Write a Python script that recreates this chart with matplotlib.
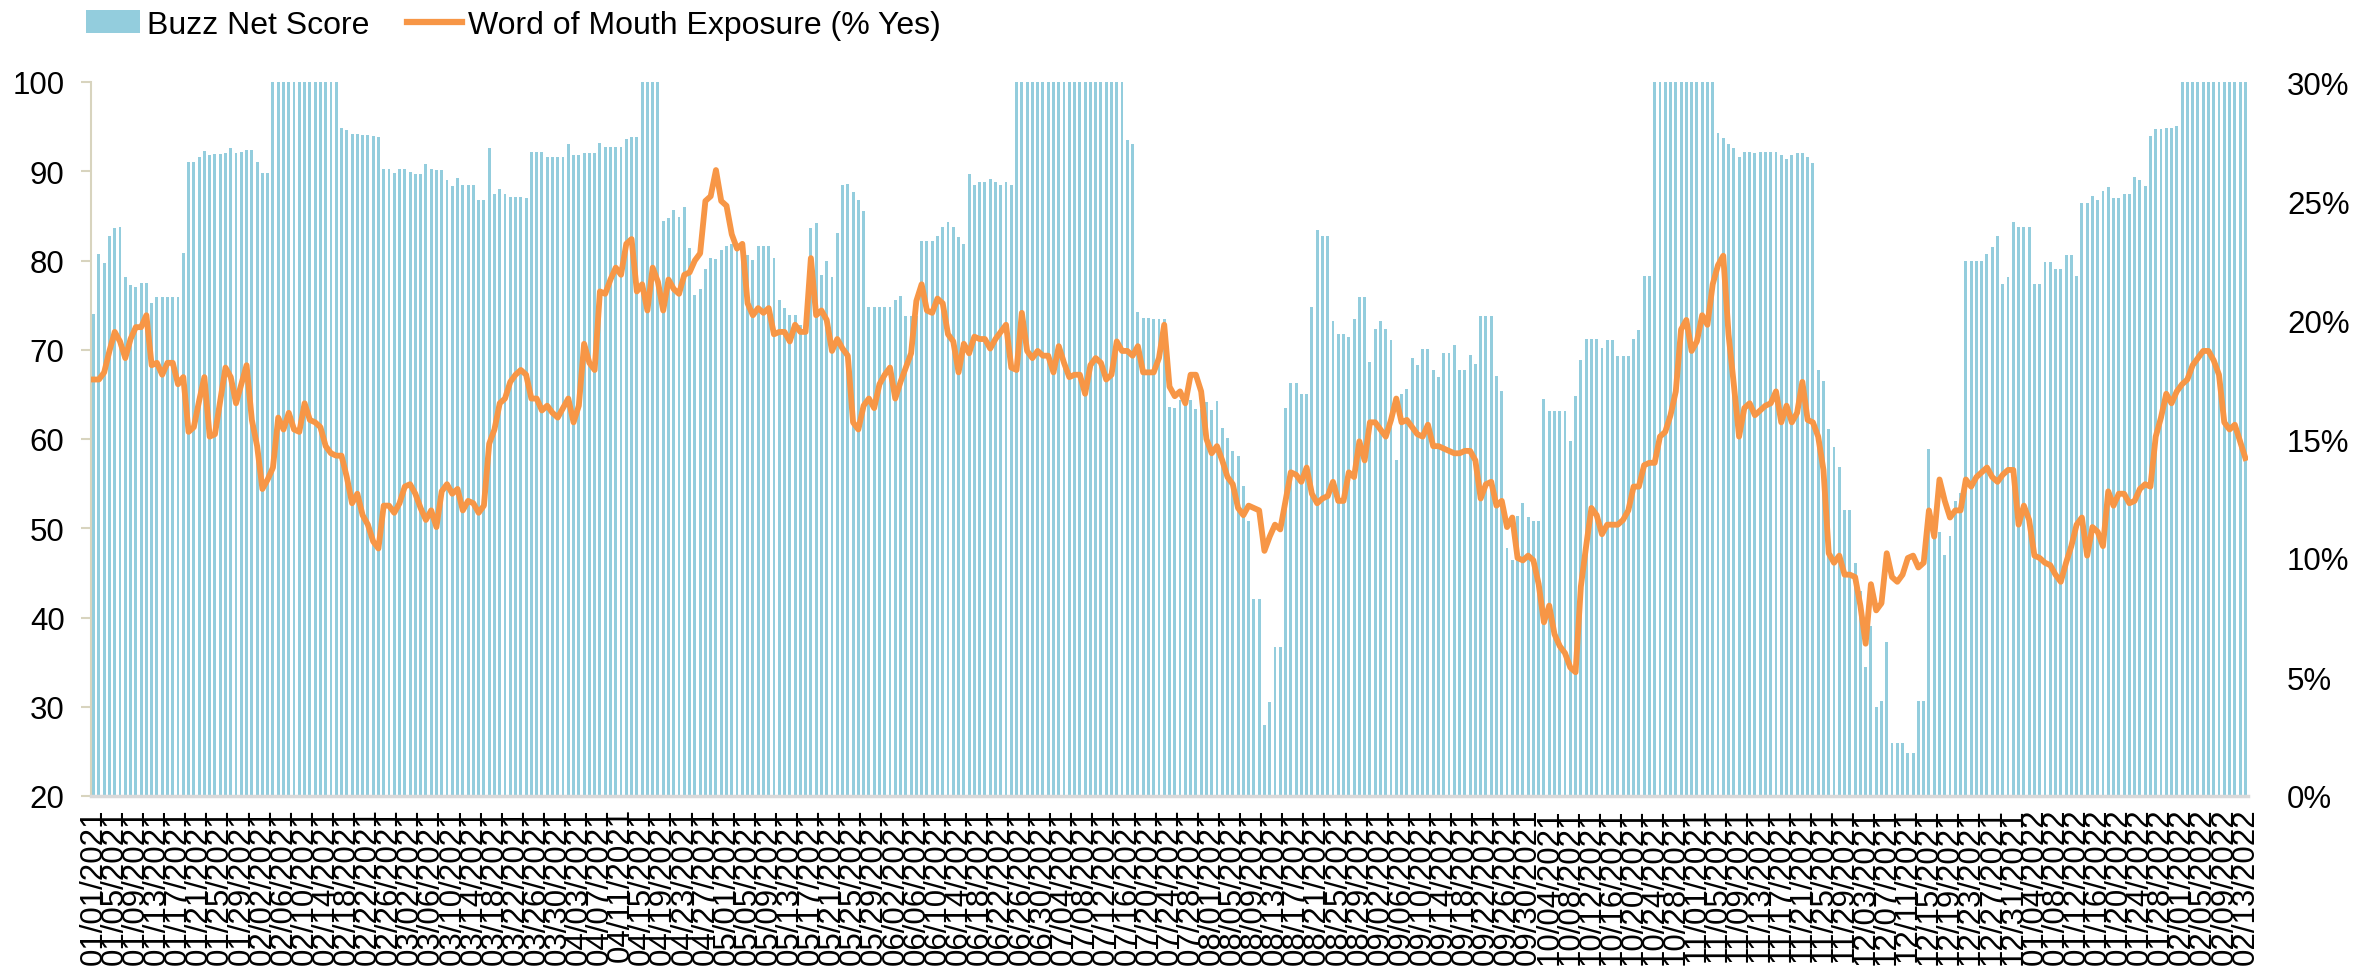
import numpy as np
import pandas as pd
import matplotlib
matplotlib.use("Agg")
import matplotlib.pyplot as plt
from matplotlib.patches import Patch
from matplotlib.lines import Line2D

plt.rcParams['font.family'] = ['Liberation Sans', 'DejaVu Sans']

# daily dates, 01/01/2021 - 02/13/2022
dates = pd.date_range('2021-01-01', '2022-02-13', freq='D')

# Buzz Net Score (left axis), one value per day
buzz_net_score = [
    74.0, 80.7, 79.7, 82.8, 83.6, 83.7, 78.2, 77.2, 77.0, 77.5, 77.5, 75.2, 75.9, 75.9, 75.9, 75.9,
    75.9, 80.8, 91.0, 91.0, 91.6, 92.3, 91.8, 91.9, 91.9, 92.1, 92.6, 92.0, 92.2, 92.4, 92.4, 91.0,
    89.8, 89.8, 100, 100, 100, 100, 100, 100, 100, 100, 100, 100, 100, 100, 100, 94.9,
    94.6, 94.2, 94.2, 94.1, 94.1, 93.9, 93.8, 90.2, 90.2, 89.8, 90.2, 90.2, 89.9, 89.7, 89.7, 90.8,
    90.2, 90.1, 90.1, 89.0, 88.4, 89.2, 88.5, 88.5, 88.5, 86.8, 86.8, 92.6, 87.4, 88.0, 87.5, 87.1,
    87.1, 87.1, 87.0, 92.2, 92.2, 92.2, 91.6, 91.6, 91.6, 91.6, 93.1, 91.8, 91.8, 92.1, 92.1, 92.1,
    93.2, 92.7, 92.7, 92.7, 92.7, 93.6, 93.8, 93.8, 100, 100, 100, 100, 84.4, 84.8, 85.7, 84.9,
    86.0, 81.4, 76.1, 76.8, 79.0, 80.3, 80.2, 81.2, 81.6, 81.9, 81.3, 81.0, 80.6, 80.1, 81.6, 81.6,
    81.6, 80.3, 75.6, 74.7, 73.9, 73.9, 72.8, 72.8, 83.6, 84.2, 78.4, 79.9, 78.1, 83.1, 88.5, 88.6,
    87.7, 86.8, 85.6, 74.8, 74.8, 74.8, 74.8, 74.8, 75.6, 76.0, 73.8, 73.8, 73.8, 82.2, 82.2, 82.2,
    82.8, 83.8, 84.3, 83.7, 82.6, 81.9, 89.7, 88.5, 88.8, 88.8, 89.1, 88.8, 88.5, 88.8, 88.5, 100,
    100, 100, 100, 100, 100, 100, 100, 100, 100, 100, 100, 100, 100, 100, 100, 100,
    100, 100, 100, 100, 93.5, 93.0, 74.2, 73.6, 73.6, 73.5, 73.5, 73.5, 63.6, 63.5, 64.4, 64.4,
    64.4, 63.4, 63.4, 64.1, 63.2, 64.3, 61.2, 60.1, 58.6, 58.1, 54.7, 50.8, 42.1, 42.1, 27.9, 30.5,
    36.7, 36.7, 63.5, 66.3, 66.3, 65.0, 65.0, 74.8, 83.4, 82.7, 82.7, 73.2, 71.8, 71.8, 71.4, 73.4,
    75.9, 75.9, 68.6, 72.3, 73.2, 72.3, 71.1, 57.6, 65.0, 65.6, 69.1, 68.3, 70.1, 70.1, 67.7, 66.9,
    69.6, 69.6, 70.5, 67.7, 67.7, 69.4, 68.4, 73.8, 73.8, 73.8, 67.1, 65.4, 47.8, 46.4, 51.4, 52.8,
    51.3, 50.8, 50.8, 64.5, 63.1, 63.1, 63.1, 63.1, 59.8, 64.8, 68.8, 71.2, 71.2, 71.2, 70.2, 71.1,
    71.1, 69.3, 69.3, 69.3, 71.2, 72.2, 78.3, 78.3, 100, 100, 100, 100, 100, 100, 100, 100,
    100, 100, 100, 100, 94.3, 93.7, 93.1, 92.6, 91.6, 92.2, 92.2, 92.0, 92.2, 92.2, 92.2, 92.2,
    91.8, 91.4, 91.8, 92.1, 92.1, 91.6, 90.9, 67.7, 66.5, 61.1, 59.1, 56.9, 52.0, 52.0, 46.1, 43.0,
    34.5, 39.1, 30.0, 30.6, 37.2, 25.9, 25.9, 25.9, 24.8, 24.8, 30.7, 30.7, 58.9, 49.6, 49.6, 47.0,
    49.1, 53.0, 54.0, 79.9, 79.9, 79.9, 79.9, 80.7, 81.5, 82.8, 77.4, 78.1, 84.3, 83.7, 83.7, 83.7,
    77.4, 77.4, 79.8, 79.8, 79.1, 79.1, 80.6, 80.6, 78.3, 86.4, 86.4, 87.2, 86.8, 87.8, 88.2, 87.0,
    87.0, 87.5, 87.5, 89.3, 89.0, 88.4, 94.0, 94.7, 94.7, 94.8, 94.9, 95.1, 100, 100, 100, 100,
    100, 100, 100, 100, 100, 100, 100, 100, 100,
]

# Word of Mouth Exposure, % Yes (right axis)
wom_exposure = [
    17.5, 17.5, 17.8, 18.7, 19.5, 19.1, 18.4, 19.2, 19.7, 19.7, 20.2, 18.1, 18.2, 17.7, 18.2, 18.2,
    17.3, 17.6, 15.3, 15.5, 16.6, 17.6, 15.1, 15.2, 16.6, 18.0, 17.6, 16.5, 17.3, 18.1, 15.8, 14.7,
    12.9, 13.3, 13.8, 15.9, 15.4, 16.1, 15.4, 15.3, 16.5, 15.8, 15.7, 15.5, 14.7, 14.4, 14.3, 14.3,
    13.4, 12.3, 12.7, 11.8, 11.4, 10.7, 10.4, 12.2, 12.2, 11.9, 12.3, 13.0, 13.1, 12.7, 12.1, 11.6,
    12.0, 11.3, 12.8, 13.1, 12.7, 12.9, 12.0, 12.4, 12.3, 11.9, 12.2, 14.8, 15.4, 16.5, 16.7, 17.4,
    17.7, 17.9, 17.7, 16.7, 16.7, 16.2, 16.4, 16.1, 15.9, 16.3, 16.7, 15.7, 16.4, 19.0, 18.2, 17.9,
    21.2, 21.1, 21.7, 22.2, 21.9, 23.2, 23.4, 21.2, 21.5, 20.4, 22.2, 21.6, 20.4, 21.7, 21.3, 21.1,
    21.9, 22.0, 22.5, 22.8, 25.0, 25.2, 26.3, 25.0, 24.8, 23.6, 23.0, 23.2, 20.7, 20.2, 20.5, 20.3,
    20.5, 19.4, 19.5, 19.5, 19.1, 19.8, 19.5, 19.5, 22.6, 20.2, 20.4, 20.0, 18.7, 19.2, 18.8, 18.5,
    15.7, 15.4, 16.4, 16.7, 16.3, 17.3, 17.7, 18.0, 16.7, 17.4, 18.0, 18.6, 20.8, 21.5, 20.4, 20.3,
    20.9, 20.7, 19.4, 19.1, 17.8, 19.0, 18.6, 19.3, 19.2, 19.2, 18.8, 19.2, 19.5, 19.8, 18.0, 17.9,
    20.3, 18.7, 18.4, 18.7, 18.5, 18.5, 17.8, 18.9, 18.2, 17.6, 17.7, 17.7, 16.9, 18.1, 18.4, 18.2,
    17.5, 17.7, 19.1, 18.7, 18.7, 18.5, 18.9, 17.8, 17.8, 17.8, 18.4, 19.8, 17.2, 16.8, 17.0, 16.5,
    17.7, 17.7, 17.0, 15.0, 14.4, 14.7, 14.1, 13.4, 13.1, 12.1, 11.8, 12.2, 12.1, 12.0, 10.3, 10.9,
    11.4, 11.2, 12.4, 13.6, 13.5, 13.2, 13.8, 12.7, 12.3, 12.5, 12.6, 13.2, 12.4, 12.4, 13.6, 13.4,
    14.9, 14.1, 15.7, 15.7, 15.4, 15.1, 15.8, 16.7, 15.7, 15.8, 15.5, 15.2, 15.1, 15.6, 14.7, 14.7,
    14.6, 14.5, 14.4, 14.4, 14.5, 14.5, 14.1, 12.5, 13.1, 13.2, 12.2, 12.4, 11.3, 11.7, 10.0, 9.9,
    10.1, 9.9, 8.9, 7.3, 8.0, 6.8, 6.3, 6.0, 5.4, 5.2, 8.8, 10.5, 12.1, 11.8, 11.0, 11.4,
    11.4, 11.4, 11.6, 12.0, 13.0, 13.0, 13.9, 14.0, 14.0, 15.1, 15.3, 16.0, 17.0, 19.6, 20.0, 18.7,
    19.1, 20.2, 19.8, 21.5, 22.3, 22.7, 19.4, 17.3, 15.1, 16.3, 16.5, 16.0, 16.2, 16.4, 16.5, 17.0,
    15.7, 16.4, 15.7, 16.1, 17.4, 15.8, 15.7, 15.1, 13.7, 10.2, 9.8, 10.1, 9.3, 9.3, 9.2, 8.0,
    6.4, 8.9, 7.8, 8.1, 10.2, 9.2, 9.0, 9.3, 10.0, 10.1, 9.6, 9.8, 12.0, 10.9, 13.3, 12.4,
    11.7, 12.0, 12.0, 13.3, 13.0, 13.4, 13.6, 13.8, 13.4, 13.2, 13.5, 13.7, 13.7, 11.4, 12.2, 11.6,
    10.1, 10.0, 9.8, 9.7, 9.3, 9.0, 9.8, 10.5, 11.4, 11.7, 10.1, 11.3, 11.1, 10.5, 12.8, 12.2,
    12.7, 12.7, 12.3, 12.4, 12.9, 13.1, 13.0, 15.1, 15.9, 16.9, 16.5, 17.0, 17.3, 17.5, 18.1, 18.4,
    18.7, 18.7, 18.3, 17.7, 15.7, 15.4, 15.6, 14.9, 14.2,
]

tick_idx = list(range(0, len(dates), 4))
tick_labels = [dates[i].strftime('%m/%d/%Y') for i in tick_idx]

bar_color = '#93CDDD'
line_color = '#F79646'

fig = plt.figure(figsize=(23.71, 9.79), dpi=100)
ax = fig.add_axes([91 / 2371, 1 - 797 / 979, (2248 - 91) / 2371, (797 - 83) / 979])

x = np.arange(len(dates))
ax.bar(x, np.array(buzz_net_score) - 20, bottom=20, width=0.55, color=bar_color, zorder=2)
ax.set_xlim(-0.5, len(dates) - 0.5)
ax.set_ylim(20, 100)
ax.set_yticks(range(20, 101, 10))
ax.tick_params(axis='y', labelsize=22.5, length=7, width=1.5, color='#D8D4BE', pad=12)
ax.set_xticks(tick_idx)
ax.set_xticklabels(tick_labels, rotation=90, fontsize=22.5)
ax.tick_params(axis='x', length=0, pad=8)
for s in ['top', 'right']:
    ax.spines[s].set_visible(False)
ax.spines['left'].set_color('#D8D4BE')
ax.spines['left'].set_linewidth(1.5)
ax.spines['bottom'].set_color('#D9D9D9')
ax.spines['bottom'].set_linewidth(2.5)

# right axis for the line
ax2 = ax.twinx()
ax2.plot(x, wom_exposure, color=line_color, linewidth=4.2, solid_joinstyle='round', zorder=3)
ax2.set_ylim(0, 30)
ax2.set_yticks(range(0, 31, 5))
ax2.set_yticklabels([f'{v}%' for v in range(0, 31, 5)])
ax2.tick_params(axis='y', labelsize=22.5, length=0, pad=28)
for s in ax2.spines.values():
    s.set_visible(False)

handles = [Patch(facecolor=bar_color, edgecolor='none', label='Buzz Net Score'),
           Line2D([0], [0], color=line_color, linewidth=4.5, label='Word of Mouth Exposure (% Yes)')]
fig.legend(handles=handles, loc='upper left', bbox_to_anchor=(86 / 2371, 0.989), ncol=2,
           frameon=False, fontsize=23, borderpad=0, handlelength=1.7, handletextpad=0.2,
           columnspacing=1.2, borderaxespad=0)

fig.savefig('out.png', dpi=100)
